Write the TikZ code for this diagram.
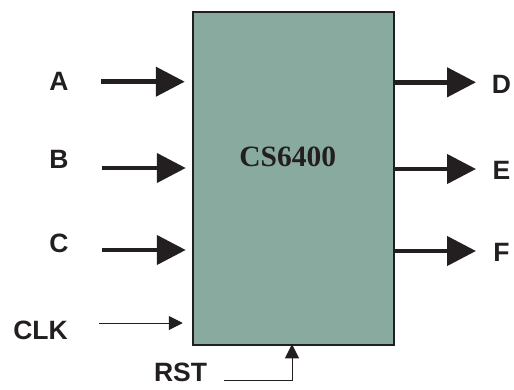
\documentclass[tikz,border=0pt]{standalone}
\usepackage{fontspec}
\setmainfont{Liberation Sans}
\newfontfamily\chipfont{Liberation Serif}
\usetikzlibrary{arrows.meta,positioning}
\definecolor{chipgreen}{HTML}{89AB9F}
\definecolor{inkdark}{HTML}{231F20}

\begin{document}
\begin{tikzpicture}[x=1pt, y=-1pt,
    pin/.style={inner sep=0pt, font=\bfseries\fontsize{26.5}{30}\selectfont, text=inkdark},
    busarrow/.style={draw=inkdark, line width=4.5pt, -{Triangle[length=29pt, width=29pt]}},
    wirearrow/.style={draw=inkdark, line width=1pt, -{Triangle[length=14pt, width=14pt]}}]
            \useasboundingbox (0,0) rectangle (514,389);

            % The chip
            \node[draw=inkdark, line width=2.5pt, fill=chipgreen, minimum width=201pt, minimum height=333pt, inner sep=0pt] (chip) at (293.5,178.5) {};
            \node[inner sep=0pt, font=\chipfont\bfseries\fontsize{29.5}{32}\selectfont, text=inkdark] (name) at (287.7,157) {CS6400};

            % Input labels
            \node[pin] (a) at (59,81) {A};
            \node[pin] (b) at (59,159) {B};
            \node[pin] (c) at (59,243.5) {C};
            \node[pin] (clk) at (40.5,330) {CLK};
            \node[pin] (rst) at (180.5,372) {RST};

            % Output labels
            \node[pin] (d) at (501.5,84) {D};
            \node[pin] (e) at (501.5,170.5) {E};
            \node[pin] (f) at (501.5,252.5) {F};

            % Wire ends
            \coordinate (ain) at (101,81.7);
            \coordinate (bin) at (102,168);
            \coordinate (cin) at (102,250);
            \coordinate (clkin) at (99,323);
            \coordinate (rstin) at (224,380);
            \coordinate (dout) at (476,82.3);
            \coordinate (eout) at (476,169);
            \coordinate (fout) at (476,251);

            % Inputs
            \draw[busarrow] (ain) -- ([xshift=-7pt]ain -| chip.west);
            \draw[busarrow] (bin) -- ([xshift=-6pt]bin -| chip.west);
            \draw[busarrow] (cin) -- ([xshift=-6pt]cin -| chip.west);
            \draw[wirearrow] (clkin) -- ([xshift=-9pt]clkin -| chip.west);
            \draw[wirearrow] (rstin) -| ([xshift=-1.5pt, yshift=2pt]chip.south);

            % Outputs
            \draw[busarrow] (dout -| chip.east) -- (dout);
            \draw[busarrow] (eout -| chip.east) -- (eout);
            \draw[busarrow] (fout -| chip.east) -- (fout);
        \end{tikzpicture}
\end{document}
